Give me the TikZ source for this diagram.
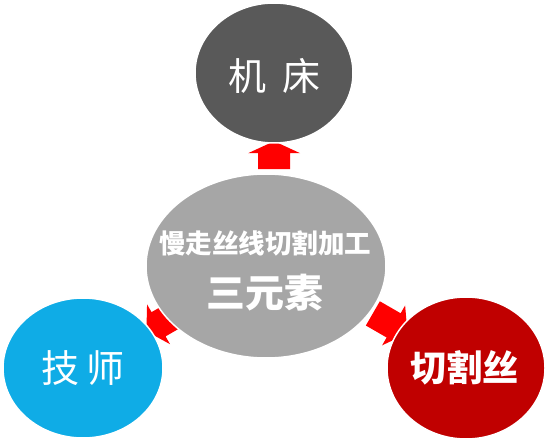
\documentclass[tikz,border=0pt]{standalone}
\usepackage{fontspec}
\newfontfamily\cjk{Noto Sans CJK SC}
\usetikzlibrary{shapes.geometric,calc}
\definecolor{darkg}{HTML}{595959}
\definecolor{midg}{HTML}{A6A6A6}
\definecolor{skyb}{HTML}{0FACE6}
\definecolor{darkr}{HTML}{C00000}
\definecolor{arrred}{HTML}{FF0000}
\tikzset{
  blob/.style={ellipse, draw=white, line width=1.5pt, inner sep=0pt, text=white, font=\cjk},
  pics/redarr/.style args={#1/#2/#3/#4}{code={
    \fill[arrred] (0,0) -- (-#1,#2/2) -- (-#1,#3/2) -- (-#4,#3/2) -- (-#4,-#3/2) -- (-#1,-#3/2) -- (-#1,-#2/2) -- cycle;
  }}
}
\begin{document}
\begin{tikzpicture}[x=1pt,y=1pt]
\useasboundingbox (0,0) rectangle (551,442);
\fill[white] (0,0) rectangle (551,442);
% coordinates of the ellipse centres
\coordinate (ctop) at (274,369);
\coordinate (cgray) at (266,176);
\coordinate (cblue) at (83,74);
\coordinate (cred) at (466,74);
% invisible helpers to compute border points
\path (ctop) node[ellipse, minimum width=158pt, minimum height=140pt, inner sep=0pt] (htop) {};
\path (cblue) node[ellipse, minimum width=160pt, minimum height=140pt, inner sep=0pt] (hblue) {};
\path (cred) node[ellipse, minimum width=158pt, minimum height=142pt, inner sep=0pt] (hred) {};
% arrows (under the ellipses)
\pic[rotate=90] at ($(htop.south)!-2pt!(cgray)$) {redarr={12/52/32/28}};
\pic[rotate=210] at ($(hblue.30)!-4pt!(cgray)$) {redarr={14/46/28/36}};
\pic[rotate=330] at ($(hred.150)!-9pt!(cgray)$) {redarr={16/46/28/40}};
% ellipses
\node[blob, fill=darkg, minimum width=158pt, minimum height=140pt] (top) at (ctop) {};
\node[blob, fill=midg, minimum width=240pt, minimum height=184pt] (gray) at (cgray) {};
\node[blob, fill=skyb, minimum width=160pt, minimum height=140pt] (blue) at (cblue) {};
\node[blob, fill=darkr, minimum width=158pt, minimum height=142pt] (red) at (cred) {};
% texts
\node[text=white, font=\cjk\fontsize{38}{40}\selectfont] (ttop) at (274,366) {机\hspace{16pt}床};
\node[text=white, font=\cjk\fontsize{38}{40}\selectfont] (tblue) at (83,74) {技\hspace{8pt}师};
\node[text=white, font=\cjk\bfseries\fontsize{36}{38}\selectfont] (tred) at (464,74) {切割丝};
\node[text=white, font=\cjk\bfseries\fontsize{26.5}{28}\selectfont] (t1) at (265,199) {慢走丝线切割加工};
\node[text=white, font=\cjk\bfseries\fontsize{39}{41}\selectfont] (t2) at (265,149) {三元素};
\end{tikzpicture}
\end{document}
